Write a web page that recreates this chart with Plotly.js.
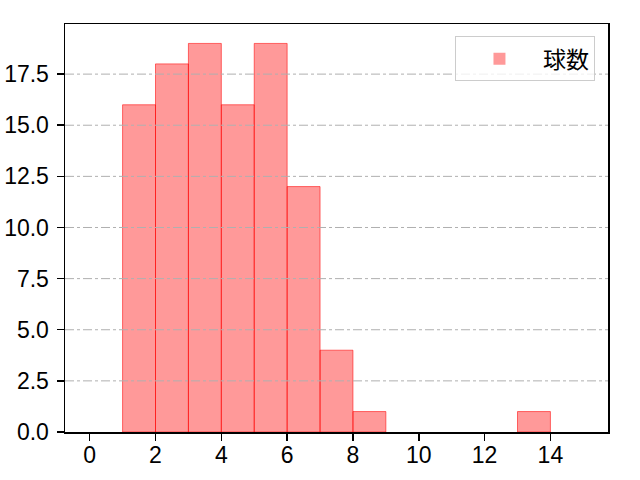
<!DOCTYPE html>
<html>
<head>
<meta charset="utf-8">
<script src="https://cdn.plot.ly/plotly-3.0.1.min.js"></script>
<style>
    html, body { margin: 0; padding: 0; background: #ffffff; }
    #grafico { width: 640px; height: 480px; }
</style>
</head>
<body>
<div id="grafico"></div>
<script>
// bordes de los bins (ancho 1) y conteos
const binEdges = [0, 1, 2, 3, 4, 5, 6, 7, 8, 9, 10, 11, 12, 13, 14, 15];
const counts = [0, 16, 18, 19, 16, 19, 12, 4, 1, 0, 0, 0, 0, 1, 0];
const xTicks = [0, 2, 4, 6, 8, 10, 12, 14];
const yTicks = [0, 2.5, 5, 7.5, 10, 12.5, 15, 17.5];
const yTickText = ['0.0', '2.5', '5.0', '7.5', '10.0', '12.5', '15.0', '17.5'];
const seriesName = '球数';

const centers = counts.map((c, i) => (binEdges[i] + binEdges[i + 1]) / 2);
const widths = counts.map((c, i) => binEdges[i + 1] - binEdges[i]);
const yMax = Math.max(...counts) * 1.05;

const trace = {
    x: centers,
    y: counts,
    width: widths,
    type: 'bar',
    name: seriesName,
    showlegend: true,
    marker: {
        color: 'rgba(255,0,0,0.4)',
        // sin borde en los bins vacíos
        line: { color: 'rgba(255,0,0,0.55)', width: counts.map(c => (c > 0 ? 1 : 0)) }
    }
};

// rejilla horizontal encima de las barras, como en el original
const gridShapes = yTicks.filter(v => v > 0).map(v => ({
    type: 'line',
    xref: 'paper', x0: 0, x1: 1,
    yref: 'y', y0: v, y1: v,
    layer: 'above',
    line: { color: 'rgba(176,176,176,1)', width: 1, dash: 'dashdot' }
}));

const axisBase = {
    ticks: 'outside',
    ticklen: 7,
    tickwidth: 1.5,
    tickcolor: '#000',
    showgrid: false,
    zeroline: false,
    showline: true,
    mirror: true,
    linecolor: '#000',
    linewidth: 1.5
};

const layout = {
    width: 640,
    height: 480,
    paper_bgcolor: '#ffffff',
    plot_bgcolor: '#ffffff',
    font: { family: 'Liberation Sans, Noto Sans CJK JP', color: '#000000', size: 23 },
    margin: { l: 65, r: 32, t: 24, b: 48 },
    bargap: 0,
    xaxis: Object.assign({}, axisBase, {
        range: [-0.75, 15.75],
        tickvals: xTicks,
        ticklabelstandoff: -5
    }),
    yaxis: Object.assign({}, axisBase, {
        range: [0, yMax],
        tickvals: yTicks,
        ticktext: yTickText,
        ticklabelstandoff: 3
    }),
    shapes: gridShapes,
    legend: {
        x: 0.976,
        y: 0.97,
        xanchor: 'right',
        yanchor: 'top',
        bgcolor: 'rgba(255,255,255,0.8)',
        bordercolor: '#cccccc',
        borderwidth: 1,
        font: { family: 'Noto Sans CJK JP', size: 23 },
        itemwidth: 77
    }
};

Plotly.newPlot('grafico', [trace], layout, { staticPlot: true });
</script>
</body>
</html>
